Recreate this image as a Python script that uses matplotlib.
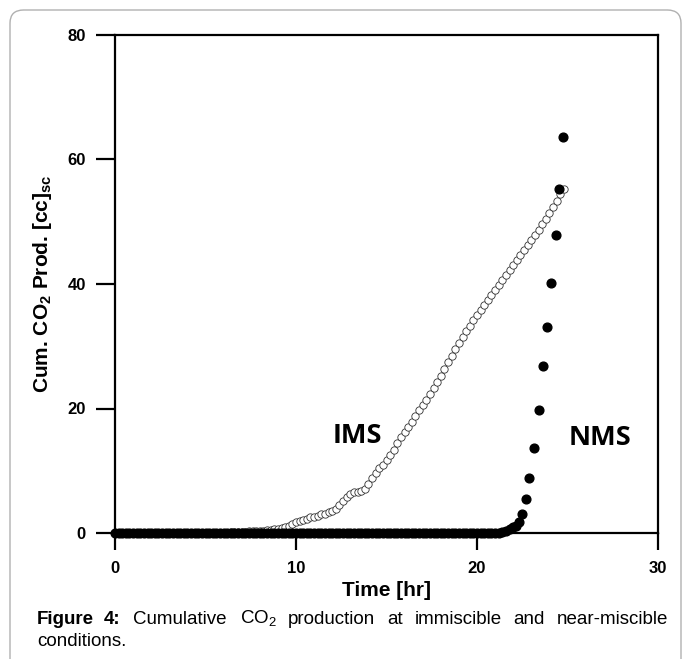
import numpy as np
import matplotlib.pyplot as plt
from matplotlib.patches import FancyBboxPatch

plt.rcParams['font.family'] = ['Liberation Sans', 'DejaVu Sans']
plt.rcParams['mathtext.fontset'] = 'custom'
plt.rcParams['mathtext.rm'] = 'Liberation Sans'
plt.rcParams['mathtext.bf'] = 'Liberation Sans:bold'

# ============================== data ======================================= #

# IMS (immiscible), sampled every 0.2 hr from 0 to 24.8 hr
ims_time = np.round(np.arange(0, 24.81, 0.2), 1)
ims_prod = [0.0] * 31 + [
    0.05, 0.1, 0.1, 0.15, 0.2, 0.2, 0.25, 0.3, 0.3, 0.35,       # 6.2 - 8.0
    0.4, 0.45, 0.5, 0.6, 0.7, 0.8, 1.0, 1.2, 1.5, 1.7,          # 8.2 - 10.0
    1.9, 2.1, 2.3, 2.5, 2.6, 2.8, 3.0, 3.1, 3.3, 3.5,           # 10.2 - 12.0
    3.9, 4.5, 5.2, 5.8, 6.3, 6.6, 6.6, 6.7, 7.1, 7.9,           # 12.2 - 14.0
    8.8, 9.6, 10.4, 11.0, 11.8, 12.6, 13.4, 14.4, 15.4, 16.2,   # 14.2 - 16.0
    17.0, 17.9, 18.8, 19.7, 20.6, 21.4, 22.3, 23.3, 24.3, 25.3, # 16.2 - 18.0
    26.3, 27.4, 28.5, 29.6, 30.6, 31.5, 32.4, 33.3, 34.2, 35.0, # 18.2 - 20.0
    35.8, 36.6, 37.4, 38.3, 39.0, 39.8, 40.6, 41.4, 42.2, 43.0, # 20.2 - 22.0
    43.8, 44.6, 45.4, 46.2, 47.0, 47.8, 48.7, 49.6, 50.5, 51.4, # 22.2 - 24.0
    52.4, 53.4, 54.4, 55.3,                                     # 24.2 - 24.8
]

# NMS (near-miscible): flat at zero up to 21 hr, then the breakthrough
nms_time_flat = np.round(np.arange(0, 21.01, 0.2), 1)
nms_time_rise = [21.2, 21.4, 21.6, 21.8, 22.0, 22.15, 22.3, 22.5, 22.7, 22.9,
                 23.15, 23.4, 23.62, 23.85, 24.1, 24.35, 24.55, 24.75]
nms_prod_rise = [0.05, 0.2, 0.4, 0.6, 0.9, 1.2, 1.8, 3.0, 5.4, 8.8,
                 13.7, 19.8, 26.8, 33.1, 40.2, 47.8, 55.3, 63.6]

nms_time = list(nms_time_flat) + nms_time_rise
nms_prod = [0.0] * len(nms_time_flat) + nms_prod_rise

x_ticks = [0, 10, 20, 30]
y_ticks = [0, 20, 40, 60, 80]

# ============================== figure ===================================== #

fig = plt.figure(figsize=(6.83, 6.59), dpi=100)
fig.patches.append(FancyBboxPatch((10 / 683, -0.05), 671 / 683, 1.05 - 10 / 659,
                                  boxstyle="round,pad=0,rounding_size=0.02",
                                  transform=fig.transFigure, fill=False,
                                  edgecolor='#b0b0b0', linewidth=1.0))

ax = fig.add_axes([115 / 683, 126 / 659, 543 / 683, 498 / 659])

ax.plot(ims_time, ims_prod, linestyle='none', marker='o', markersize=5.3,
        markerfacecolor='white', markeredgecolor='#333333', markeredgewidth=0.6,
        clip_on=False, zorder=3)
ax.plot(nms_time, nms_prod, linestyle='none', marker='o', markersize=6.3,
        color='black', clip_on=False, zorder=4)

ax.set_xlim(0, 30)
ax.set_ylim(0, 80)
ax.set_xticks(x_ticks)
ax.set_yticks(y_ticks)
for s in ax.spines.values():
    s.set_linewidth(1.6)
ax.tick_params(axis='y', direction='out', length=14, width=1.6, pad=7,
               labelsize=12)
ax.tick_params(axis='x', direction='out', length=12.5, width=1.6, pad=7.5,
               labelsize=12)
for lab in ax.get_xticklabels() + ax.get_yticklabels():
    lab.set_fontweight('bold')

ax.set_xlabel('Time [hr]', fontsize=15, fontweight='bold', labelpad=4)
ax.set_ylabel(r'Cum. CO$_\mathbf{2}$ Prod. [cc]$_\mathbf{sc}$', fontsize=15,
              fontweight='bold', labelpad=10)

ax.text(13.4, 15.6, 'IMS', fontsize=19.5, fontweight='bold', ha='center',
        va='center', family=['Open Sans', 'DejaVu Sans'])
ax.text(26.8, 15.3, 'NMS', fontsize=19.5, fontweight='bold', ha='center',
        va='center', family=['Open Sans', 'DejaVu Sans'])

# caption, laid out word by word to mimic the justified line
cap_y1 = 1 - 619 / 659
cap_y2 = 1 - 641 / 659
fig.text(37 / 683, cap_y1, 'Figure', fontsize=13.5, fontweight='bold',
         va='center')
fig.text(104 / 683, cap_y1, '4:', fontsize=13.5, fontweight='bold',
         va='center')
words = [('Cumulative', 133), (r'CO$_2$', 240), ('production', 288), ('at', 387),
         ('immiscible', 415), ('and', 513), ('near-miscible', 557)]
for w, xp in words:
    fig.text(xp / 683, cap_y1, w, fontsize=13.5, va='center')
fig.text(37 / 683, cap_y2, 'conditions.', fontsize=13.5, va='center')

fig.savefig('out.png', dpi=100)
